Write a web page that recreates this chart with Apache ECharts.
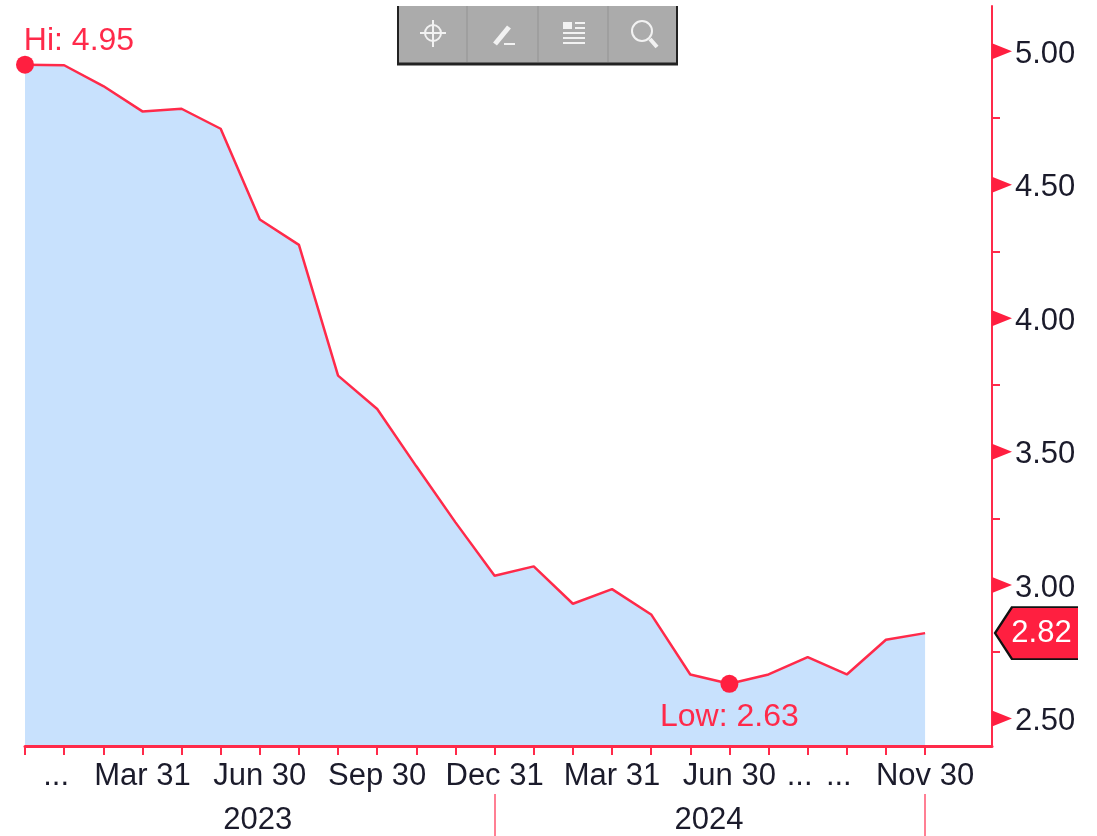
<!DOCTYPE html>
<html>
<head>
<meta charset="utf-8">
<style>html,body{margin:0;padding:0;background:#fff}#c{width:1097px;height:836px}</style>
<script src="https://cdn.jsdelivr.net/npm/echarts@6/dist/echarts.min.js"></script>
</head>
<body>
<div id="c"></div>
<script>
var dates = ['2022-12-31','2023-01-31','2023-02-28','2023-03-31','2023-04-30','2023-05-31','2023-06-30','2023-07-31','2023-08-31','2023-09-30','2023-10-31','2023-11-30','2023-12-31','2024-01-31','2024-02-29','2024-03-31','2024-04-30','2024-05-31','2024-06-30','2024-07-31','2024-08-31','2024-09-30','2024-10-31','2024-11-30'];
var values = [4.95,4.948,4.87,4.775,4.785,4.71,4.37,4.275,3.785,3.66,3.445,3.235,3.035,3.07,2.93,2.985,2.89,2.665,2.63,2.665,2.73,2.665,2.795,2.82];
var xLabelDates = ['2023-01-31','2023-03-31','2023-06-30','2023-09-30','2023-12-31','2024-03-31','2024-06-30','2024-08-31','2024-09-30','2024-11-30'];
var xLabelTexts = ['...','Mar 31','Jun 30','Sep 30','Dec 31','Mar 31','Jun 30','...','...','Nov 30'];
var yearPositions = [5.95,17.48];
var yearTexts = ['2023','2024'];
var yearDividers = ['2023-12-31','2024-11-30'];
var yMajor = [2.5,3,3.5,4,4.5,5];
var yMinor = [2.5,2.75,3,3.25,3.5,3.75,4,4.25,4.5,4.75,5];
var xMax = 24.71, yMin = 2.397, yMax = 5.170;
var lastValue = 2.82, hiValue = 4.95, hiDate = '2022-12-31', lowValue = 2.63, lowDate = '2024-06-30';

var RED = '#ff2a4a', SOLID = '#ff1f40', FILL = '#c8e1fd', INK = '#1b1b2b', FONT = '"Liberation Sans",sans-serif', FS = 31, FSR = 32;

function ix(d){ return dates.indexOf(d); }
var labelMap = {}; xLabelDates.forEach(function(d,i){ labelMap[ix(d)] = xLabelTexts[i]; });
var yearMap = {}; yearPositions.forEach(function(p,i){ yearMap[p] = yearTexts[i]; });

var chart = echarts.init(document.getElementById('c'), null, {renderer:'canvas'});

function line(x1,y1,x2,y2,w){ return {type:'line',silent:true,z:101,shape:{x1:x1,y1:y1,x2:x2,y2:y2},style:{stroke:'#f2f2f2',lineWidth:w||2}}; }
var toolbar = [
  {type:'rect',silent:true,z:100,shape:{x:397,y:6,width:281,height:58},style:{fill:'#ababab'}},
  {type:'line',silent:true,z:101,shape:{x1:398,y1:6,x2:398,y2:64},style:{stroke:'#222',lineWidth:2}},
  {type:'line',silent:true,z:101,shape:{x1:677,y1:6,x2:677,y2:64},style:{stroke:'#222',lineWidth:2}},
  {type:'line',silent:true,z:101,shape:{x1:397,y1:64,x2:678,y2:64},style:{stroke:'#222',lineWidth:3}},
  {type:'line',silent:true,z:101,shape:{x1:467,y1:6,x2:467,y2:62},style:{stroke:'#9f9f9f',lineWidth:2}},
  {type:'line',silent:true,z:101,shape:{x1:538,y1:6,x2:538,y2:62},style:{stroke:'#9f9f9f',lineWidth:2}},
  {type:'line',silent:true,z:101,shape:{x1:608,y1:6,x2:608,y2:62},style:{stroke:'#9f9f9f',lineWidth:2}},
  {type:'circle',silent:true,z:101,shape:{cx:433,cy:33,r:8},style:{fill:'none',stroke:'#f2f2f2',lineWidth:2}},
  line(433,20,433,47), line(420,33,446,33),
  line(495,44,509,27,5), line(504,44,515,44),
  {type:'rect',silent:true,z:101,shape:{x:563,y:22,width:9,height:7},style:{fill:'#f2f2f2'}},
  line(575,23,585,23), line(575,28,585,28), line(563,33,585,33), line(563,38,585,38), line(563,43,585,43),
  {type:'circle',silent:true,z:101,shape:{cx:642,cy:31,r:10},style:{fill:'none',stroke:'#f2f2f2',lineWidth:2}},
  line(650,39,657,47,4)
];

chart.setOption({
  animation:false,
  backgroundColor:'#ffffff',
  textStyle:{fontFamily:FONT},
  grid:{left:25,right:105,top:6,bottom:89,containLabel:false},
  xAxis:[{
    type:'value',min:0,max:xMax,position:'bottom',scale:true,z:5,
    axisLine:{show:true,onZero:false,lineStyle:{color:RED,width:3}},
    axisTick:{show:true,length:9,customValues:dates.map(ix),lineStyle:{color:RED,width:2}},
    axisLabel:{show:true,margin:15,fontFamily:FONT,fontSize:FS,color:INK,hideOverlap:false,customValues:xLabelDates.map(ix),
      rich:{d:{fontFamily:FONT,fontSize:FS,color:INK,padding:[0,16,0,0]}},
      formatter:function(v){ var s = labelMap[v]; return s === '...' ? '{d|...}' : s; }},
    splitLine:{show:false},minorTick:{show:false}
  },{
    type:'value',min:0,max:xMax,position:'bottom',offset:48,scale:true,z:5,
    axisLine:{show:false,onZero:false},
    axisTick:{show:true,length:42,customValues:yearDividers.map(ix),lineStyle:{color:'#ff7f93',width:2}},
    axisLabel:{show:true,margin:11,fontFamily:FONT,fontSize:FS,color:INK,hideOverlap:false,customValues:yearPositions,
      formatter:function(v){ return yearMap[v]; }},
    splitLine:{show:false}
  }],
  yAxis:{
    type:'value',position:'right',min:yMin,max:yMax,scale:true,z:5,
    axisLine:{show:true,onZero:false,lineStyle:{color:RED,width:2}},
    axisTick:{show:true,length:8,customValues:yMinor,lineStyle:{color:RED,width:2}},
    axisLabel:{show:true,margin:23,fontFamily:FONT,fontSize:FS,color:INK,customValues:yMajor,
      rich:{a:{fontFamily:FONT,fontSize:FS,color:INK,padding:[6,0,0,0]}},
      formatter:function(v){ return '{a|' + v.toFixed(2) + '}'; }},
    splitLine:{show:false}
  },
  graphic:toolbar,
  series:[{
    type:'line',xAxisIndex:0,data:dates.map(function(d,i){ return [i,values[i]]; }),
    symbol:'none',silent:true,
    lineStyle:{color:RED,width:2.5},
    areaStyle:{color:FILL,opacity:1}
  },{
    type:'scatter',xAxisIndex:0,clip:false,silent:true,z:6,
    data:yMajor.map(function(v){ return [xMax,v]; }),
    symbol:'path://M0 0L20 8L0 16Z',symbolSize:[20,16],symbolOffset:[10,0],
    itemStyle:{color:SOLID,opacity:1}
  },{
    type:'scatter',xAxisIndex:0,clip:true,silent:true,z:7,
    symbolSize:18,itemStyle:{color:SOLID,opacity:1},
    data:[
      {value:[ix(hiDate),hiValue],label:{show:true,position:'top',distance:-1,offset:[54,0],formatter:'Hi: '+hiValue.toFixed(2),fontFamily:FONT,fontSize:FSR,color:RED}},
      {value:[ix(lowDate),lowValue],label:{show:true,position:'bottom',distance:8,formatter:'Low: '+lowValue.toFixed(2),fontFamily:FONT,fontSize:FSR,color:RED}}
    ]
  },{
    type:'scatter',xAxisIndex:0,clip:false,silent:true,z:8,
    data:[[xMax,lastValue]],
    symbol:'path://M83 0L17 0L0 26L17 52L83 52',symbolSize:[83,52],symbolOffset:[44.5,0],
    itemStyle:{color:SOLID,opacity:1,borderColor:'#111',borderWidth:2},
    label:{show:true,position:'inside',offset:[5,0],formatter:lastValue.toFixed(2),fontFamily:FONT,fontSize:FS,color:'#fff'}
  }]
});
</script>
</body>
</html>
